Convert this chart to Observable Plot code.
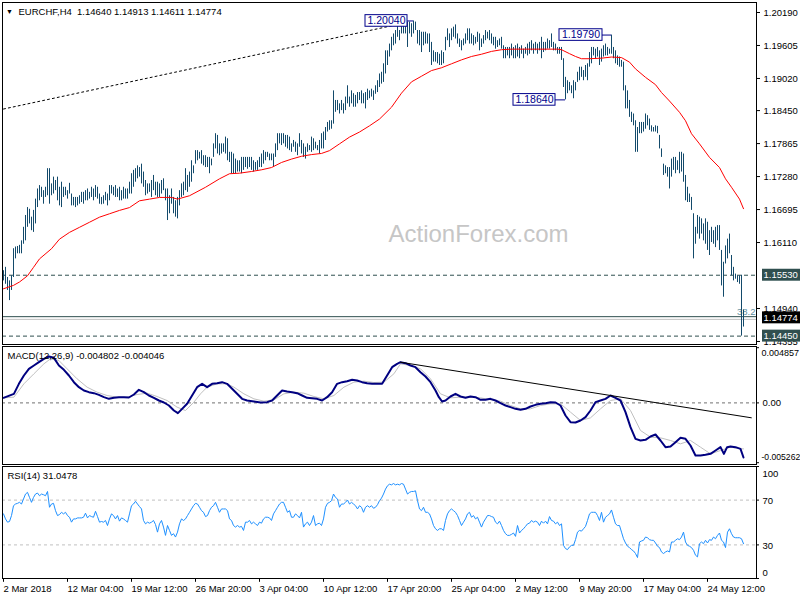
<!DOCTYPE html>
<html><head><meta charset="utf-8">
<script src="https://cdn.jsdelivr.net/npm/d3@7"></script>
<script src="https://cdn.jsdelivr.net/npm/@observablehq/plot@0.6"></script>
<style>
body{margin:0;background:#fff}
#chart{position:relative;width:800px;height:600px;overflow:hidden;background:#fff}
#chart > div{position:absolute;left:0}
</style></head><body><div id="chart"></div>
<script>
// ---------- DATA ----------
const highs = [
1.1561,1.1567,1.1549,1.1543,1.1552,1.1600,1.1603,1.1604,1.1606,1.1614,
1.1638,1.1659,1.1673,1.1670,1.1656,1.1668,1.1688,1.1706,1.1712,1.1709,
1.1703,1.1709,1.1742,1.1742,1.1715,1.1727,1.1721,1.1727,1.1709,1.1718,
1.1709,1.1709,1.1703,1.1716,1.1697,1.1691,1.1691,1.1691,1.1694,1.1700,
1.1700,1.1703,1.1706,1.1700,1.1709,1.1706,1.1712,1.1709,1.1697,1.1691,
1.1694,1.1700,1.1697,1.1712,1.1712,1.1709,1.1712,1.1706,1.1709,1.1703,
1.1709,1.1706,1.1706,1.1718,1.1733,1.1739,1.1742,1.1747,1.1744,1.1750,
1.1736,1.1721,1.1715,1.1715,1.1721,1.1730,1.1718,1.1718,1.1715,1.1721,
1.1724,1.1706,1.1706,1.1694,1.1706,1.1691,1.1685,1.1691,1.1703,1.1715,
1.1718,1.1742,1.1730,1.1736,1.1756,1.1747,1.1774,1.1774,1.1771,1.1774,
1.1765,1.1765,1.1762,1.1762,1.1759,1.1786,1.1804,1.1801,1.1786,1.1786,
1.1786,1.1798,1.1795,1.1771,1.1771,1.1768,1.1759,1.1756,1.1756,1.1762,
1.1762,1.1762,1.1762,1.1762,1.1762,1.1756,1.1753,1.1756,1.1762,1.1768,
1.1774,1.1771,1.1771,1.1768,1.1768,1.1768,1.1786,1.1804,1.1804,1.1804,
1.1804,1.1801,1.1801,1.1798,1.1786,1.1792,1.1789,1.1786,1.1804,1.1792,
1.1786,1.1780,1.1786,1.1783,1.1798,1.1795,1.1789,1.1783,1.1792,1.1804,
1.1807,1.1815,1.1824,1.1827,1.1827,1.1880,1.1863,1.1863,1.1857,1.1863,
1.1857,1.1869,1.1889,1.1869,1.1880,1.1875,1.1872,1.1877,1.1877,1.1880,
1.1875,1.1877,1.1883,1.1880,1.1883,1.1880,1.1889,1.1898,1.1910,1.1913,
1.1928,1.1951,1.1951,1.1963,1.1975,1.1981,1.1987,1.1999,1.1987,1.1996,
1.1999,1.2002,1.2002,1.2002,1.1999,1.2004,1.2002,1.1987,1.1987,1.1984,
1.1984,1.1984,1.1981,1.1981,1.1966,1.1951,1.1948,1.1948,1.1945,1.1951,
1.1948,1.1975,1.1990,1.1981,1.1990,1.1993,1.1997,1.1981,1.1972,1.1969,
1.1972,1.1981,1.1990,1.1990,1.1981,1.1978,1.1975,1.1984,1.1981,1.1972,
1.1978,1.1987,1.1984,1.1987,1.1981,1.1975,1.1975,1.1969,1.1972,1.1975,
1.1960,1.1957,1.1957,1.1957,1.1963,1.1957,1.1960,1.1963,1.1957,1.1960,
1.1954,1.1957,1.1963,1.1966,1.1969,1.1963,1.1966,1.1963,1.1966,1.1975,
1.1966,1.1966,1.1972,1.1969,1.1981,1.1966,1.1963,1.1957,1.1957,1.1957,
1.1937,1.1904,1.1898,1.1895,1.1889,1.1898,1.1895,1.1913,1.1922,1.1922,
1.1916,1.1925,1.1928,1.1948,1.1957,1.1957,1.1954,1.1957,1.1951,1.1954,
1.1960,1.1963,1.1957,1.1954,1.1979,1.1957,1.1951,1.1942,1.1940,1.1934,
1.1931,1.1889,1.1880,1.1863,1.1842,1.1839,1.1827,1.1815,1.1824,1.1824,
1.1824,1.1839,1.1836,1.1830,1.1818,1.1815,1.1818,1.1817,1.1801,1.1777,
1.1750,1.1747,1.1744,1.1744,1.1759,1.1762,1.1762,1.1756,1.1771,1.1771,
1.1768,1.1730,1.1709,1.1697,1.1691,1.1662,1.1638,1.1659,1.1656,1.1653,
1.1644,1.1653,1.1647,1.1632,1.1638,1.1632,1.1638,1.1641,1.1641,1.1597,
1.1576,1.1605,1.1617,1.1626,1.1588,1.1567,1.1555,1.1552,1.1552,1.1553,1.14913
];
const lows = [
1.1543,1.1537,1.1526,1.1508,1.1526,1.1549,1.1582,1.1591,1.1591,1.1591,
1.1608,1.1614,1.1638,1.1644,1.1632,1.1629,1.1644,1.1673,1.1685,1.1691,
1.1679,1.1691,1.1694,1.1679,1.1694,1.1697,1.1703,1.1685,1.1676,1.1673,
1.1691,1.1694,1.1688,1.1697,1.1676,1.1676,1.1673,1.1676,1.1679,1.1682,
1.1679,1.1685,1.1685,1.1688,1.1691,1.1685,1.1691,1.1688,1.1679,1.1678,
1.1679,1.1685,1.1676,1.1685,1.1697,1.1694,1.1691,1.1691,1.1685,1.1685,
1.1688,1.1688,1.1688,1.1697,1.1697,1.1709,1.1718,1.1724,1.1727,1.1715,
1.1709,1.1694,1.1697,1.1700,1.1691,1.1703,1.1694,1.1691,1.1691,1.1697,
1.1703,1.1685,1.1650,1.1662,1.1679,1.1662,1.1656,1.1653,1.1676,1.1691,
1.1694,1.1703,1.1700,1.1709,1.1718,1.1733,1.1750,1.1756,1.1759,1.1750,
1.1747,1.1744,1.1744,1.1733,1.1747,1.1762,1.1777,1.1768,1.1765,1.1768,
1.1771,1.1768,1.1756,1.1753,1.1733,1.1733,1.1733,1.1736,1.1736,1.1733,
1.1739,1.1744,1.1741,1.1744,1.1739,1.1736,1.1739,1.1739,1.1744,1.1744,
1.1750,1.1756,1.1762,1.1756,1.1756,1.1744,1.1762,1.1774,1.1786,1.1783,
1.1786,1.1780,1.1777,1.1774,1.1771,1.1780,1.1771,1.1765,1.1780,1.1768,
1.1762,1.1759,1.1771,1.1774,1.1771,1.1774,1.1777,1.1774,1.1768,1.1777,
1.1777,1.1792,1.1807,1.1810,1.1812,1.1821,1.1842,1.1845,1.1839,1.1845,
1.1839,1.1845,1.1857,1.1851,1.1857,1.1851,1.1851,1.1857,1.1863,1.1857,
1.1857,1.1848,1.1863,1.1866,1.1869,1.1863,1.1874,1.1877,1.1886,1.1892,
1.1895,1.1910,1.1925,1.1940,1.1951,1.1960,1.1963,1.1975,1.1969,1.1981,
1.1981,1.1981,1.1957,1.1981,1.1975,1.1981,1.1987,1.1963,1.1960,1.1948,
1.1960,1.1963,1.1963,1.1948,1.1925,1.1931,1.1931,1.1928,1.1925,1.1925,
1.1928,1.1951,1.1969,1.1957,1.1969,1.1975,1.1972,1.1963,1.1957,1.1951,
1.1960,1.1963,1.1969,1.1963,1.1963,1.1960,1.1963,1.1966,1.1951,1.1957,
1.1963,1.1969,1.1972,1.1969,1.1963,1.1960,1.1954,1.1957,1.1960,1.1954,
1.1937,1.1937,1.1942,1.1937,1.1942,1.1937,1.1937,1.1940,1.1937,1.1945,
1.1937,1.1945,1.1942,1.1945,1.1951,1.1945,1.1951,1.1945,1.1951,1.1937,
1.1948,1.1951,1.1954,1.1954,1.1957,1.1951,1.1951,1.1945,1.1945,1.1934,
1.1886,1.1864,1.1875,1.1880,1.1875,1.1866,1.1880,1.1895,1.1898,1.1904,
1.1898,1.1904,1.1898,1.1922,1.1928,1.1942,1.1937,1.1940,1.1925,1.1931,
1.1940,1.1942,1.1942,1.1945,1.1945,1.1937,1.1928,1.1925,1.1922,1.1922,
1.1880,1.1848,1.1848,1.1833,1.1824,1.1818,1.1771,1.1771,1.1804,1.1804,
1.1807,1.1812,1.1818,1.1810,1.1807,1.1807,1.1807,1.1804,1.1777,1.1762,
1.1730,1.1733,1.1727,1.1706,1.1727,1.1739,1.1733,1.1739,1.1733,1.1736,
1.1718,1.1685,1.1682,1.1682,1.1668,1.1582,1.1608,1.1626,1.1617,1.1626,
1.1614,1.1608,1.1597,1.1588,1.1611,1.1608,1.1602,1.1614,1.1597,1.1534,
1.1514,1.1573,1.1582,1.1591,1.1552,1.1543,1.1546,1.1540,1.1537,1.1445,1.14611
];
// moving average: [bar, value]
const movingAvg = [
[0,1.1529],[5,1.1535],[8,1.1541],[12,1.1552],[15,1.1567],[18,1.1582],[24,1.1600],[28,1.1617],[33,1.1629],[38,1.1638],
[43,1.1647],[48,1.1656],[53,1.1662],[58,1.1668],[63,1.1673],[68,1.1685],[73,1.1688],[78,1.1691],[84,1.1691],[87,1.1688],
[93,1.1694],[101,1.1709],[108,1.1724],[113,1.1733],[118,1.1734],[124,1.1737],[129,1.1740],[134,1.1744],[139,1.1753],[144,1.1759],
[149,1.1764],[154,1.1767],[159,1.1769],[163,1.1774],[168,1.1786],[173,1.1798],[178,1.1807],[183,1.1818],[188,1.1830],[194,1.1851],
[199,1.1876],[204,1.1896],[209,1.1906],[214,1.1916],[219,1.1921],[224,1.1928],[229,1.1935],[234,1.1941],[239,1.1945],[244,1.1950],
[249,1.1953],[254,1.1954],[264,1.1954],[277,1.1954],[279,1.1953],[283,1.1946],[286,1.1941],[289,1.1937],[293,1.1937],[299,1.1938],
[304,1.1940],[309,1.1939],[313,1.1931],[316,1.1919],[321,1.1904],[326,1.1891],[329,1.1877],[333,1.1862],[338,1.1842],[341,1.1827],
[344,1.1804],[348,1.1786],[353,1.1762],[358,1.1744],[361,1.1724],[364,1.1709],[368,1.1688],[370,1.1671]
];
const priceTrend = [[0,1.18478],[197,1.19977]];
const dashLevels = [1.1553, 1.1445];
const fibLevel = 1.14795, fibLabel = "38.2";
const bidPrice = 1.14774;
const priceTicks = [1.20190,1.19605,1.19020,1.18450,1.17865,1.17280,1.16695,1.16110,1.14940,1.14355];
const valueBoxes = [{v:1.15530, bg:"#2f4f4f"}, {v:1.14774, bg:"#000000"}, {v:1.14450, bg:"#2f4f4f"}];
const notes = [{v:1.20040, b1:181, b2:202, bar:205}, {v:1.19790, b1:278, b2:299.5, bar:304}, {v:1.18640, b1:255, b2:276, bar:281}];
const titleText = "EURCHF,H4\u00a0\u00a01.14640 1.14913 1.14611 1.14774";

const macdMain = [
[0,0.000446],[5.2,0.000798],[7.7,0.001678],[10.2,0.002411],[12.7,0.002998],[15.2,0.003291],[17.7,0.003584],[20.2,0.003877],[22.7,0.004083],[25.2,0.003965],
[27.7,0.003291],[30.2,0.002910],[32.7,0.002411],[35.2,0.001824],[37.7,0.001384],[40.2,0.001091],[42.7,0.000944],[45.2,0.000856],[47.7,0.000710],[50.2,0.000504],
[52.7,0.000358],[55.2,0.000446],[57.7,0.000504],[60.2,0.000504],[62.7,0.000475],[65.2,0.000739],[67.7,0.001150],[70.2,0.000944],[72.7,0.000651],[75.2,0.000446],
[77.7,0.000211],[80.2,0.000035],[82.7,-0.000229],[85.2,-0.000669],[87.2,-0.000903],[89.3,-0.000522],[91.8,-0.000082],[94.3,0.000651],[96.8,0.001384],[99.3,0.001678],
[101.8,0.001384],[104.3,0.001678],[106.8,0.001736],[109.3,0.001824],[111.8,0.001678],[114.3,0.001238],[116.8,0.000798],[119.3,0.000358],[121.8,0.000211],[125.2,0.000123],
[128.5,0.000035],[131.8,0.000065],[134.3,0.000211],[136.8,0.000651],[139.3,0.001091],[141.8,0.001003],[144.3,0.000944],[146.8,0.000856],[149.3,0.000651],[151.8,0.000446],
[154.3,0.000416],[156.8,0.000358],[159.3,0.000211],[161.8,0.000504],[164.3,0.000944],[166.8,0.001678],[169.3,0.001824],[171.8,0.001912],[174.3,0.002030],[176.8,0.001971],
[179.3,0.001824],[181.8,0.001736],[184.3,0.001678],[186.8,0.001678],[189.3,0.001678],[191.8,0.002411],[194.3,0.003144],[196.8,0.003437],[198.5,0.003584],[201,0.003496],
[203.5,0.003291],[206,0.003144],[208.5,0.002704],[211,0.002323],[213.5,0.001824],[216,0.001091],[217.7,0.000504],[219.3,0.000123],[221,0.000211],[223.5,0.000563],
[226,0.000798],[228.5,0.000563],[231,0.000446],[233.5,0.000563],[236,0.000504],[238.5,0.000270],[241,0.000270],[243.5,0.000358],[246,0.000211],[248.5,-0.000023],
[251,-0.000229],[253.5,-0.000375],[256,-0.000522],[258.5,-0.000610],[261,-0.000522],[263.5,-0.000317],[266,-0.000170],[268.5,-0.000082],[271,-0.000023],[273.5,0.000065],
[276,0.000035],[278.5,-0.000229],[281,-0.001109],[283.5,-0.001695],[286,-0.001725],[288.5,-0.001549],[291,-0.001255],[293.5,-0.000669],[296,0.000065],[298.5,0.000211],
[301,0.000358],[303.5,0.000651],[306,0.000446],[308.5,0.000211],[311,-0.000815],[313.5,-0.002135],[316,-0.003162],[318.5,-0.003308],[321,-0.003250],[323.5,-0.002956],
[326,-0.002781],[328.5,-0.003308],[331,-0.003895],[333.5,-0.003836],[336,-0.003455],[338.5,-0.003074],[341,-0.003162],[343.5,-0.003748],[346,-0.004628],[348.5,-0.004628],
[351,-0.004570],[353.5,-0.004482],[356,-0.004188],[358.5,-0.003895],[360.2,-0.004482],[361.8,-0.003895],[363.5,-0.003836],[366,-0.003895],[368.5,-0.004042],[370,-0.004802]
];
const macdSignal = [
[0,0.000446],[5.2,0.000504],[10.2,0.001678],[15.2,0.002558],[20.2,0.003437],[23.5,0.003877],[27.7,0.003731],[31.8,0.002998],[36.8,0.002118],[41.8,0.001384],
[46.8,0.000944],[51.8,0.000651],[56.8,0.000504],[61.8,0.000504],[66.8,0.000739],[71.8,0.000856],[76.8,0.000563],[81.8,0.000211],[86.8,-0.000375],[91,-0.000669],
[95.2,0.000065],[98.5,0.000798],[101.8,0.001384],[106.8,0.001678],[111.8,0.001678],[115.2,0.001384],[120.2,0.000798],[125.2,0.000358],[130.2,0.000153],[135.2,0.000270],
[140.2,0.000798],[145.2,0.000944],[150.2,0.000856],[155.2,0.000563],[160.2,0.000358],[165.2,0.000651],[170.2,0.001384],[175.2,0.001824],[180.2,0.001912],[185.2,0.001795],
[190.2,0.001824],[195.2,0.002558],[198.5,0.003437],[203.5,0.003291],[208.5,0.002998],[213.5,0.002118],[218.5,0.000798],[223.5,0.000446],[228.5,0.000504],[233.5,0.000504],
[238.5,0.000446],[243.5,0.000270],[248.5,0.000153],[253.5,-0.000229],[258.5,-0.000522],[263.5,-0.000522],[268.5,-0.000229],[273.5,-0.000082],[278.5,-0.000082],[283.5,-0.000815],
[288.5,-0.001549],[293.5,-0.001314],[298.5,-0.000522],[303.5,0.000211],[308.5,0.000358],[313.5,-0.000669],[318.5,-0.002428],[323.5,-0.003015],[328.5,-0.003074],[333.5,-0.003308],
[338.5,-0.003602],[343.5,-0.003308],[348.5,-0.003895],[353.5,-0.004482],[358.5,-0.004188],[363.5,-0.003895],[368.5,-0.004042],[370,-0.004046]
];
const macdTrend = [[198.5,0.00358],[373.9,-0.00131]];
const macdTitle = "MACD(12,26,9) -0.004802 -0.004046";
const macdMax = 0.004857, macdMin = -0.005262;

const rsi = [
57.7,53.2,50.3,50.9,56.2,65.0,66.5,67.1,68.0,66.5,71.0,75.4,76.9,72.4,68.0,72.4,75.4,76.3,73.9,75.4,
74.8,73.9,77.7,63.6,66.5,67.1,60.6,56.2,57.1,59.1,57.7,59.1,56.2,54.7,50.3,53.2,53.2,54.1,54.1,54.1,
54.7,58.3,54.1,56.2,55.3,54.7,60.0,55.3,50.3,50.9,50.3,51.8,47.3,53.2,57.7,56.2,53.2,56.2,51.2,54.1,
53.2,51.8,50.3,57.7,65.0,66.5,68.9,66.5,64.2,62.1,51.8,48.8,50.3,49.4,50.3,51.8,48.2,41.4,48.8,51.8,
45.9,38.5,47.3,42.9,38.5,40.0,37.0,41.4,48.8,53.2,51.8,53.2,56.2,59.1,62.1,65.0,67.1,66.5,63.6,60.6,
59.1,55.3,56.2,60.6,63.6,65.0,68.0,63.6,59.1,62.1,62.1,62.1,60.6,53.2,51.8,47.3,45.9,47.3,45.9,46.5,
42.9,50.3,50.3,51.8,48.8,50.3,48.8,47.3,50.3,49.4,53.2,54.7,54.7,54.1,51.8,57.7,60.6,63.6,66.5,68.0,
68.0,63.6,59.1,60.6,54.7,54.7,57.7,56.2,54.1,59.1,45.9,48.8,50.3,47.3,50.3,56.2,47.3,48.8,49.4,47.3,
53.2,63.6,67.1,68.0,69.5,75.4,72.4,71.0,63.6,66.5,66.5,68.0,70.1,66.5,68.0,66.5,65.0,62.1,65.0,63.6,
59.1,63.6,65.0,63.6,65.0,62.7,63.6,65.9,69.5,71.8,75.4,79.8,82.8,84.2,83.6,84.8,83.6,84.2,83.6,84.8,
84.2,79.8,75.4,76.9,77.7,77.7,78.3,69.5,62.1,60.6,63.6,59.1,59.1,57.7,53.2,47.3,44.4,42.9,44.4,44.4,
42.9,51.8,57.7,60.6,62.1,60.6,59.1,56.2,51.8,47.3,50.3,53.2,57.7,59.1,54.7,56.2,53.2,54.7,50.3,45.9,
50.3,53.2,56.2,56.2,55.3,54.7,50.3,48.8,51.2,47.3,42.9,40.0,38.5,38.5,39.4,40.6,37.6,47.3,40.6,42.9,
44.4,46.5,48.8,49.4,51.8,50.3,51.2,50.3,47.3,51.2,49.4,51.2,48.8,55.3,51.8,51.2,48.8,50.3,47.3,48.8,
29.6,26.7,25.8,28.2,29.6,29.6,34.7,41.4,42.9,42.3,44.4,46.5,51.8,57.7,59.1,59.1,59.1,56.2,51.8,59.1,
50.3,54.7,56.2,57.7,61.2,54.7,48.8,47.3,47.3,41.4,35.5,31.7,28.8,27.6,25.8,24.6,22.3,18.7,32.6,33.5,
34.1,37.0,36.4,34.7,34.1,34.1,31.7,28.8,27.6,23.7,22.3,23.7,24.6,23.7,32.6,32.6,34.1,35.5,34.7,37.0,
41.4,32.6,29.6,28.8,27.6,25.2,20.8,19.3,31.1,32.6,31.1,34.1,31.7,34.7,34.1,37.0,35.5,38.5,40.6,34.1,
32.6,27.6,41.4,44.4,40.0,37.0,36.4,36.4,36.4,35.5,31.05
];
const rsiLevels = [70, 30];
const rsiLabels = [100, 70, 30, 0];
const rsiTitle = "RSI(14) 31.0478";

const timeTicks = [0,32,64,96,128,160,192,224,256,288,320,352];
const timeLabels = ["2 Mar 2018","12 Mar 04:00","19 Mar 12:00","26 Mar 20:00","3 Apr 04:00","10 Apr 12:00","17 Apr 20:00","25 Apr 04:00","2 May 12:00","9 May 20:00","17 May 04:00","24 May 12:00"];
const watermark = "ActionForex.com";

// ---------- STYLE ----------
const FONT = "'Liberation Sans', Arial, sans-serif";
const FS = 9.5;
const BAR = "#134a6b";
const NAVY = "#00008b";
const XEND = 376.5;
const base = {
  width: 800, marginLeft: 2, marginRight: 44,
  x: {domain: [-0.5, XEND], axis: null},
  style: {background: "transparent", overflow: "visible", fontFamily: FONT, fontSize: FS + "px", color: "#000"}
};
const bars = d3.range(highs.length);

// ---------- PRICE PANEL ----------
const pricePlot = Plot.plot({
  ...base, height: 346, marginTop: 2, marginBottom: 2,
  y: {domain: [1.143014, 1.203674], axis: null},
  marks: [
    Plot.text([watermark], {x: 237.5, y: 1.1626, text: d => d, fontSize: 24, fill: "#c6c6c6", fontFamily: FONT}),
    Plot.ruleY(dashLevels, {stroke: "#2f4f4f", strokeDasharray: "4,3"}),
    Plot.ruleY([fibLevel], {stroke: "#2f4f4f"}),
    Plot.ruleY([bidPrice], {stroke: "#c0c0c0", dy: 1.5}),
    Plot.text([fibLabel], {x: XEND, y: fibLevel, text: d => d, textAnchor: "end", dy: -5, dx: -1, fill: "#5f8fa0", fontSize: FS}),
    Plot.line(priceTrend, {x: d => d[0], y: d => d[1], stroke: "#000", strokeWidth: 1, strokeDasharray: "2,3"}),
    Plot.ruleX(bars, {x: i => i, y1: i => lows[i], y2: i => highs[i], stroke: BAR}),
    Plot.line(movingAvg, {x: d => d[0], y: d => d[1], stroke: "#ff0000", strokeWidth: 1}),
    Plot.ruleY(notes, {y: d => d.v, x1: d => d.b2, x2: d => d.bar, stroke: NAVY}),
    Plot.rect(notes, {x1: d => d.b1, x2: d => d.b2, y1: d => d.v - 0.00103, y2: d => d.v + 0.00103, fill: "#fff", stroke: NAVY}),
    Plot.text(notes, {x: d => (d.b1 + d.b2) / 2, y: d => d.v, text: d => d.v.toFixed(5), fill: NAVY, fontSize: 10.5}),
    Plot.frame({stroke: "#000"}),
    Plot.ruleY(priceTicks, {x1: XEND, x2: XEND + 2, stroke: "#000"}),
    Plot.text(priceTicks, {x: XEND, y: d => d, dx: 7, textAnchor: "start", text: d => d.toFixed(5)}),
    Plot.rect(valueBoxes, {x1: 379.5, x2: 399.5, y1: d => d.v - 0.00106, y2: d => d.v + 0.00106, fill: d => d.bg}),
    Plot.text(valueBoxes, {x: 379.5, y: d => d.v, dx: 1, textAnchor: "start", text: d => d.v.toFixed(5), fill: "#fff"}),
    Plot.text(["\u25BC"], {frameAnchor: "top-left", dx: 7, dy: 9, text: d => d, textAnchor: "middle", lineAnchor: "middle", fontSize: 7}),
    Plot.text([titleText], {frameAnchor: "top-left", dx: 16, dy: 9, text: d => d, textAnchor: "start", lineAnchor: "middle"})
  ]
});

// ---------- MACD PANEL ----------
const macdPlot = Plot.plot({
  ...base, height: 122, marginTop: 2, marginBottom: 2,
  y: {domain: [-0.0054201, 0.0049626], axis: null},
  marks: [
    Plot.ruleY([0], {stroke: "#707070", strokeDasharray: "3,3"}),
    Plot.line(macdSignal, {x: d => d[0], y: d => d[1], stroke: "#c0c0c0", strokeWidth: 1}),
    Plot.line(macdMain, {x: d => d[0], y: d => d[1], stroke: "#000080", strokeWidth: 2}),
    Plot.line(macdTrend, {x: d => d[0], y: d => d[1], stroke: "#000", strokeWidth: 1}),
    Plot.frame({stroke: "#000"}),
    Plot.ruleY([macdMax, 0, macdMin], {x1: XEND, x2: XEND + 1.5, stroke: "#000"}),
    Plot.text([macdMax], {frameAnchor: "top-right", dx: 5, dy: 7, textAnchor: "start", lineAnchor: "middle", fontSize: 9, text: d => d.toFixed(6)}),
    Plot.text([0], {x: XEND, y: d => d, dx: 6, textAnchor: "start", text: () => "0.00"}),
    Plot.text([macdMin], {frameAnchor: "bottom-right", dx: 5, dy: -7, textAnchor: "start", lineAnchor: "middle", fontSize: 8.6, text: d => d.toFixed(6)}),
    Plot.text([macdTitle], {frameAnchor: "top-left", dx: 5, dy: 9, text: d => d, textAnchor: "start", lineAnchor: "middle"})
  ]
});

// ---------- RSI PANEL ----------
const rsiPlot = Plot.plot({
  ...base, height: 136, marginTop: 2, marginBottom: 22,
  y: {domain: [0, 100], axis: null},
  marks: [
    Plot.ruleY(rsiLevels, {stroke: "#c0c0c0", strokeDasharray: "3,3"}),
    Plot.line(rsi, {x: (d, i) => i, y: d => d, stroke: "#1e90ff", strokeWidth: 1}),
    Plot.frame({stroke: "#000"}),
    Plot.ruleY(rsiLabels, {x1: XEND, x2: XEND + 1.5, stroke: "#000"}),
    Plot.text([rsiLabels[0]], {frameAnchor: "top-right", dx: 6, dy: 7, textAnchor: "start", lineAnchor: "middle", text: d => String(d)}),
    Plot.text(rsiLevels, {x: XEND, y: d => d, dx: 6, dy: 1, textAnchor: "start", text: d => String(d)}),
    Plot.text([rsiLabels[3]], {frameAnchor: "bottom-right", dx: 6, dy: -6, textAnchor: "start", lineAnchor: "middle", text: d => String(d)}),
    Plot.ruleX(timeTicks, {x: d => d, y1: 0, y2: -3.4, stroke: "#000"}),
    Plot.text(timeLabels, {x: (d, i) => timeTicks[i], frameAnchor: "bottom", dy: 10, text: d => d, textAnchor: "start", lineAnchor: "middle"}),
    Plot.text([rsiTitle], {frameAnchor: "top-left", dx: 5, dy: 9, text: d => d, textAnchor: "start", lineAnchor: "middle"})
  ]
});

const chart = document.getElementById("chart");
[[pricePlot, 0], [macdPlot, 344], [rsiPlot, 464]].forEach(([svg, top]) => {
  const div = document.createElement("div");
  div.style.top = top + "px";
  div.appendChild(svg);
  chart.appendChild(div);
});
</script>
</body></html>
